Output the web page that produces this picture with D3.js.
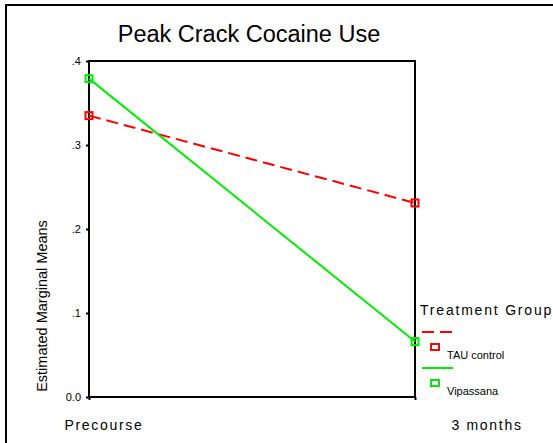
<!DOCTYPE html>
<meta charset="utf-8">
<style>
  body { margin: 0; background: #fff; }
  text { font-family: "Liberation Sans", Arial, sans-serif; fill: #000; }
</style>
<body>
<script src="https://cdn.jsdelivr.net/npm/d3@7"></script>
<script>
  // chart values
  var times = ["Precourse", "3 months"];
  var groups = ["TAU control", "Vipassana"];
  var tauMeans = [0.335, 0.231];
  var vipMeans = [0.379, 0.066];
  var yTicks = [0, 0.1, 0.2, 0.3, 0.4];
  var yTickLabels = ["0.0", ".1", ".2", ".3", ".4"];

  var W = 553, H = 443;
  var margin = { top: 61, left: 89, right: 138, bottom: 46 };

  var svg = d3.select("body").append("svg")
    .attr("width", W)
    .attr("height", H);

  // outer frame (runs off the right and bottom edge)
  svg.append("rect")
    .attr("x", 6).attr("y", 5)
    .attr("width", W + 20).attr("height", H + 20)
    .attr("fill", "none").attr("stroke", "#000").attr("stroke-width", 2);

  var x = d3.scalePoint().domain(times).range([margin.left, W - margin.right]);
  var y = d3.scaleLinear().domain([0, 0.4]).range([H - margin.bottom, margin.top]);

  svg.append("text")
    .attr("x", 249).attr("y", 42)
    .attr("text-anchor", "middle")
    .style("font-size", "23.5px")
    .text("Peak Crack Cocaine Use");

  // plot box
  svg.append("rect")
    .attr("x", x(times[0])).attr("y", y(0.4))
    .attr("width", x(times[1]) - x(times[0]))
    .attr("height", y(0) - y(0.4))
    .attr("fill", "none").attr("stroke", "#000").attr("stroke-width", 2);

  var yAxis = d3.axisLeft(y)
    .tickValues(yTicks)
    .tickSize(3)
    .tickPadding(5)
    .tickFormat(function(d, i) { return yTickLabels[i]; });

  var gy = svg.append("g")
    .attr("transform", "translate(" + x(times[0]) + ",0)")
    .call(yAxis);
  gy.select(".domain").remove();
  gy.selectAll("line").attr("stroke-width", 2);
  gy.selectAll("text").style("font-size", "11px").style("font-family", "Liberation Sans, Arial, sans-serif");

  var xAxis = d3.axisBottom(x).tickSize(3).tickFormat("");
  var gx = svg.append("g")
    .attr("transform", "translate(0," + y(0) + ")")
    .call(xAxis);
  gx.select(".domain").remove();
  gx.selectAll("line").attr("stroke-width", 2);

  // category labels sit a little right of their ticks
  svg.selectAll(".xlab")
    .data(times)
    .enter().append("text")
    .attr("class", "xlab")
    .attr("x", function(d) { return x(d) + (d === times[0] ? 15 : 72); })
    .attr("y", y(0) + 33)
    .attr("text-anchor", "middle")
    .style("font-size", "14px")
    .style("letter-spacing", "1.7px")
    .text(function(d) { return d; });

  svg.append("text")
    .attr("transform", "translate(47," + (y(0) - 91) + ") rotate(-90)")
    .attr("text-anchor", "middle")
    .style("font-size", "14.5px")
    .text("Estimated Marginal Means");

  var series = [
    { name: groups[0], values: tauMeans, color: "#ff0000", dash: "12,6" },
    { name: groups[1], values: vipMeans, color: "#00ee00", dash: null }
  ];

  var line = d3.line()
    .x(function(d, i) { return x(times[i]); })
    .y(function(d) { return y(d); });

  series.forEach(function(s) {
    svg.append("path")
      .datum(s.values)
      .attr("d", line)
      .attr("fill", "none")
      .attr("stroke", s.color)
      .attr("stroke-width", 2)
      .attr("stroke-dasharray", s.dash);

    svg.selectAll(null)
      .data(s.values)
      .enter().append("rect")
      .attr("x", function(d, i) { return x(times[i]) - 3.5; })
      .attr("y", function(d) { return y(d) - 3.5; })
      .attr("width", 7).attr("height", 7)
      .attr("fill", "none")
      .attr("stroke", s.color)
      .attr("stroke-width", 2);
  });

  // legend
  var lg = svg.append("g").attr("transform", "translate(420,315)");
  lg.append("text")
    .attr("x", 0).attr("y", 0)
    .style("font-size", "14px")
    .style("letter-spacing", "1.8px")
    .text("Treatment Group");

  series.forEach(function(s, i) {
    var oy = 17 + i * 36;
    lg.append("line")
      .attr("x1", 2).attr("x2", 33)
      .attr("y1", oy).attr("y2", oy)
      .attr("stroke", s.color).attr("stroke-width", 2)
      .attr("stroke-dasharray", s.dash);
    lg.append("rect")
      .attr("x", 11).attr("y", oy + 12)
      .attr("width", 8).attr("height", 6)
      .attr("fill", "none").attr("stroke", s.color).attr("stroke-width", 2);
    lg.append("text")
      .attr("x", 27).attr("y", oy + 27)
      .style("font-size", "11px")
      .text(s.name);
  });
</script>
</body>
